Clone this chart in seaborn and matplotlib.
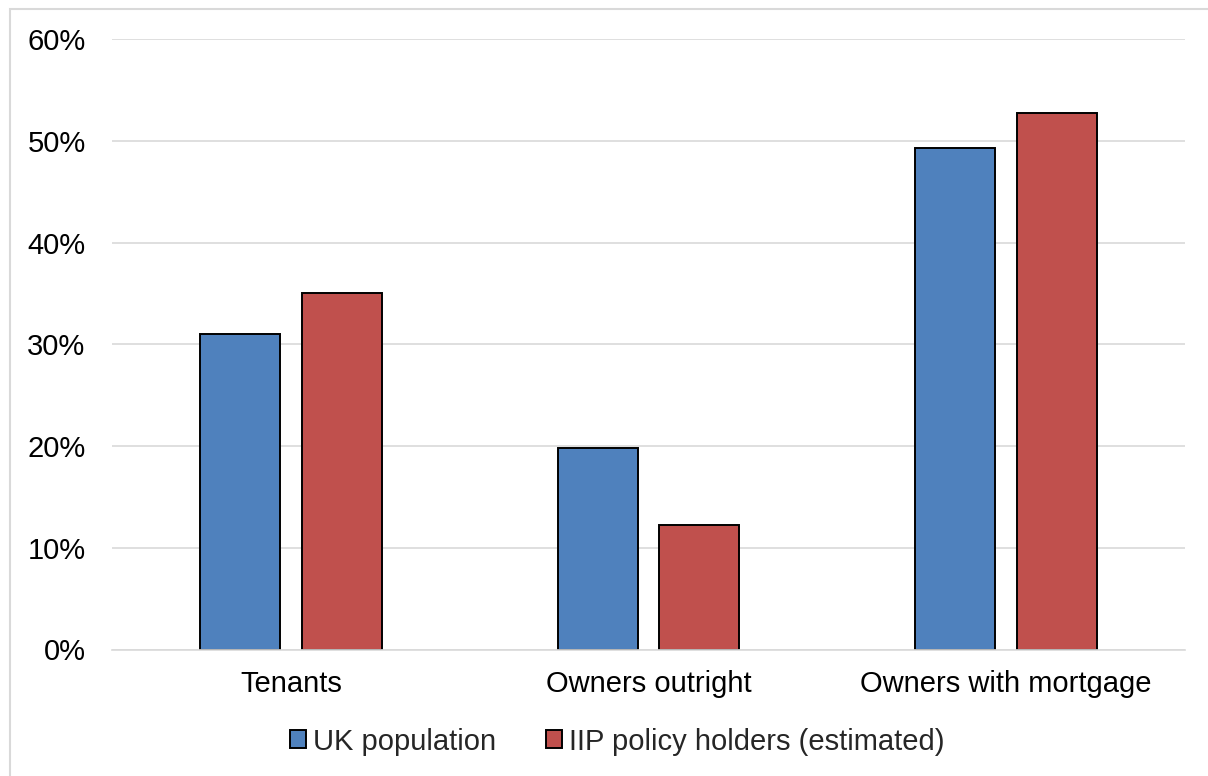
import matplotlib
matplotlib.use("Agg")
import matplotlib.pyplot as plt
from matplotlib.patches import Rectangle, Patch
from matplotlib.ticker import PercentFormatter
import seaborn as sns
import pandas as pd

categories = ["Tenants", "Owners outright", "Owners with mortgage"]
series_names = ["UK population", "IIP policy holders (estimated)"]
uk_population = [31.0, 19.8, 49.3]
iip_holders = [35.0, 12.2, 52.7]
y_ticks = [0, 10, 20, 30, 40, 50, 60]
colors = ["#4F81BD", "#C0504D"]

df = pd.DataFrame({
    "category": categories * 2,
    "series": [series_names[0]] * 3 + [series_names[1]] * 3,
    "value": uk_population + iip_holders,
})

sns.set_style("white")
plt.rcParams["font.family"] = ["Liberation Sans", "DejaVu Sans"]

fig = plt.figure(figsize=(12.08, 7.76), dpi=100)
ax = fig.add_axes([112 / 1208, 1 - 649.5 / 776, (1185 - 112) / 1208, (649.5 - 39) / 776])

sns.barplot(data=df, x="category", y="value", hue="series", order=categories,
            hue_order=series_names, palette=colors, width=0.57, gap=0.215,
            edgecolor="black", linewidth=1.4, saturation=1, ax=ax, legend=False)

ax.set_ylim(0, 60)
ax.set_xlim(-0.5, 2.5)
ax.set_yticks(y_ticks)
ax.yaxis.set_major_formatter(PercentFormatter(decimals=0))
ax.set_xlabel("")
ax.set_ylabel("")
ax.grid(axis="y", color="#D9D9D9", linewidth=1.2)
ax.set_axisbelow(True)
for s in ["left", "right", "top"]:
    ax.spines[s].set_visible(False)
ax.spines["bottom"].set_color("#D9D9D9")
ax.spines["bottom"].set_linewidth(1.2)
ax.tick_params(axis="y", length=0, pad=19, labelsize=21, labelcolor="black")
ax.tick_params(axis="x", length=0, pad=15, labelsize=21, labelcolor="black")

handles = [Patch(facecolor=c, edgecolor="black", linewidth=1.4) for c in colors]
fig.legend(handles, series_names, loc="center", bbox_to_anchor=(0.5 + 13 / 1208, 1 - 741.5 / 776),
           ncol=2, frameon=False, fontsize=21, handlelength=0.55, handleheight=0.55,
           handletextpad=0.25, columnspacing=1.7, borderpad=0)

# light frame around the chart area
fig.patches.append(Rectangle((9.5 / 1208, -0.05), 1.2, 1.05 - 9.5 / 776,
                             transform=fig.transFigure, fill=False,
                             edgecolor="#D9D9D9", linewidth=1.5))

fig.savefig("out.png", dpi=100)
